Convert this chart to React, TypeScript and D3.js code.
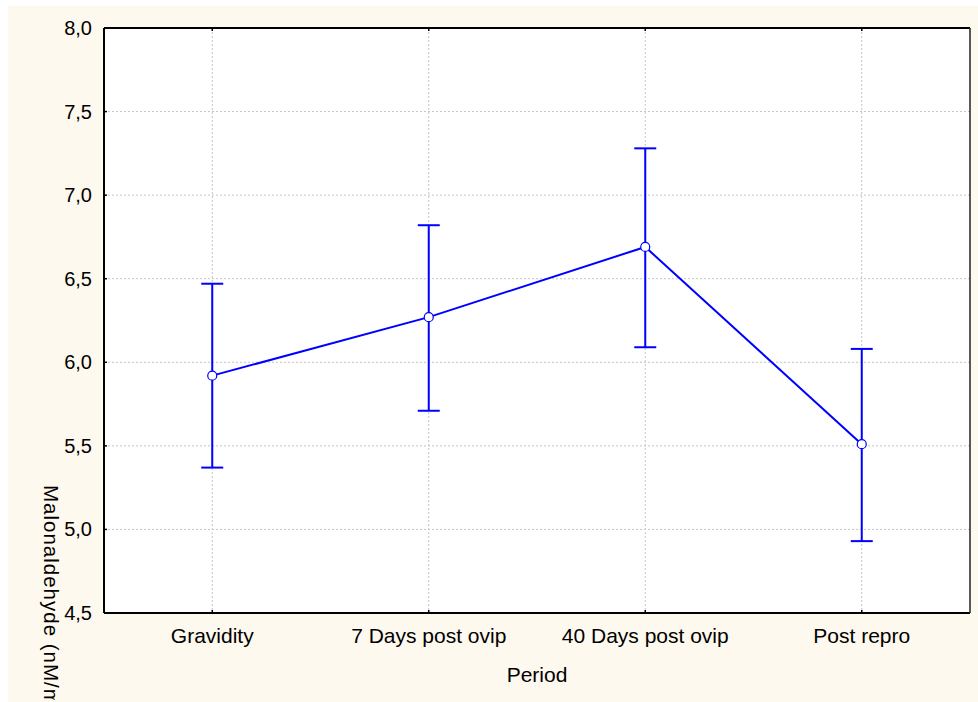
import React from "react";
import * as d3 from "d3";

const categories = ["Gravidity", "7 Days post ovip", "40 Days post ovip", "Post repro"];
const means = [5.92, 6.27, 6.69, 5.51];
const upper = [6.47, 6.82, 7.28, 6.08];
const lower = [5.37, 5.71, 6.09, 4.93];
const yTicks = [4.5, 5.0, 5.5, 6.0, 6.5, 7.0, 7.5, 8.0];

const W = 978;
const H = 702;
const left = 104;
const right = 970;
const top = 28;
const bottom = 613;
const blue = "#0000FF";
const font = "'Liberation Sans', Arial, sans-serif";

export default function App() {
  const x = d3.scaleBand<string>().domain(categories).range([left, right]);
  const cx = (c: string) => (x(c) as number) + x.bandwidth() / 2;
  const y = d3.scaleLinear().domain([4.5, 8.0]).range([bottom, top]);
  const fmt = (v: number) => d3.format(".1f")(v).replace(".", ",");
  const line = d3
    .line<number>()
    .x((_, i) => cx(categories[i]))
    .y((d) => y(d));

  return (
    <svg
      width={W}
      height={H}
      style={{ position: "absolute", left: 0, top: 0, background: "#ffffff" }}
    >
      <defs>
        <clipPath id="bg">
          <rect x={8} y={6} width={W - 8} height={H - 8} />
        </clipPath>
      </defs>
      <rect x={8} y={6} width={W - 8} height={H - 6} fill="#FEF9EE" />
      <rect x={left} y={top} width={right - left} height={bottom - top} fill="#ffffff" />
      {/* grid */}
      {yTicks.slice(1, -1).map((t) => (
        <line
          key={"gy" + t}
          x1={left}
          x2={right}
          y1={y(t)}
          y2={y(t)}
          stroke="#c4c4c4"
          strokeWidth={1}
          strokeDasharray="2,2"
        />
      ))}
      {categories.map((c) => (
        <line
          key={"gx" + c}
          x1={cx(c)}
          x2={cx(c)}
          y1={top}
          y2={bottom}
          stroke="#c4c4c4"
          strokeWidth={1}
          strokeDasharray="2,2"
        />
      ))}
      {/* frame */}
      <line x1={left} x2={right} y1={top} y2={top} stroke="#000" strokeWidth={2} />
      <line x1={left} x2={right} y1={bottom} y2={bottom} stroke="#000" strokeWidth={2} />
      <line x1={left} x2={left} y1={top} y2={bottom} stroke="#000" strokeWidth={2} />
      <line x1={right} x2={right} y1={top} y2={bottom} stroke="#222" strokeWidth={1.5} />
      {/* ticks */}
      {yTicks.map((t) => (
        <g key={"yt" + t}>
          <line x1={left} x2={left + 3} y1={y(t)} y2={y(t)} stroke="#000" strokeWidth={1.5} />
          <text
            x={92}
            y={y(t)}
            dy="0.35em"
            textAnchor="end"
            fontFamily={font}
            fontSize={20}
            fill="#000"
          >
            {fmt(t)}
          </text>
        </g>
      ))}
      {categories.map((c) => (
        <g key={"xt" + c}>
          <line x1={cx(c)} x2={cx(c)} y1={bottom} y2={bottom - 3} stroke="#000" strokeWidth={1.5} />
          <line x1={cx(c)} x2={cx(c)} y1={top} y2={top + 3} stroke="#000" strokeWidth={1.5} />
          <text
            x={cx(c)}
            y={636}
            dy="0.35em"
            textAnchor="middle"
            fontFamily={font}
            fontSize={21}
            fill="#000"
          >
            {c}
          </text>
        </g>
      ))}
      <text x={537} y={675} dy="0.35em" textAnchor="middle" fontFamily={font} fontSize={21} fill="#000">
        Period
      </text>
      <g clipPath="url(#bg)">
        <text
          transform={`translate(44,485) rotate(90)`}
          fontFamily={font}
          fontSize={20.5}
          letterSpacing={1.0}
          fill="#000"
        >
          Malonaldehyde (nM/ml)
        </text>
      </g>
      {/* error bars */}
      {categories.map((c, i) => (
        <g key={"eb" + c} stroke={blue} strokeWidth={2}>
          <line x1={cx(c)} x2={cx(c)} y1={y(upper[i])} y2={y(lower[i])} />
          <line x1={cx(c) - 11} x2={cx(c) + 11} y1={y(upper[i])} y2={y(upper[i])} />
          <line x1={cx(c) - 11} x2={cx(c) + 11} y1={y(lower[i])} y2={y(lower[i])} />
        </g>
      ))}
      <path d={line(means) || ""} fill="none" stroke={blue} strokeWidth={2} />
      {means.map((m, i) => (
        <circle
          key={"pt" + i}
          cx={cx(categories[i])}
          cy={y(m)}
          r={4.5}
          fill="#fff"
          stroke={blue}
          strokeWidth={1.2}
        />
      ))}
    </svg>
  );
}
